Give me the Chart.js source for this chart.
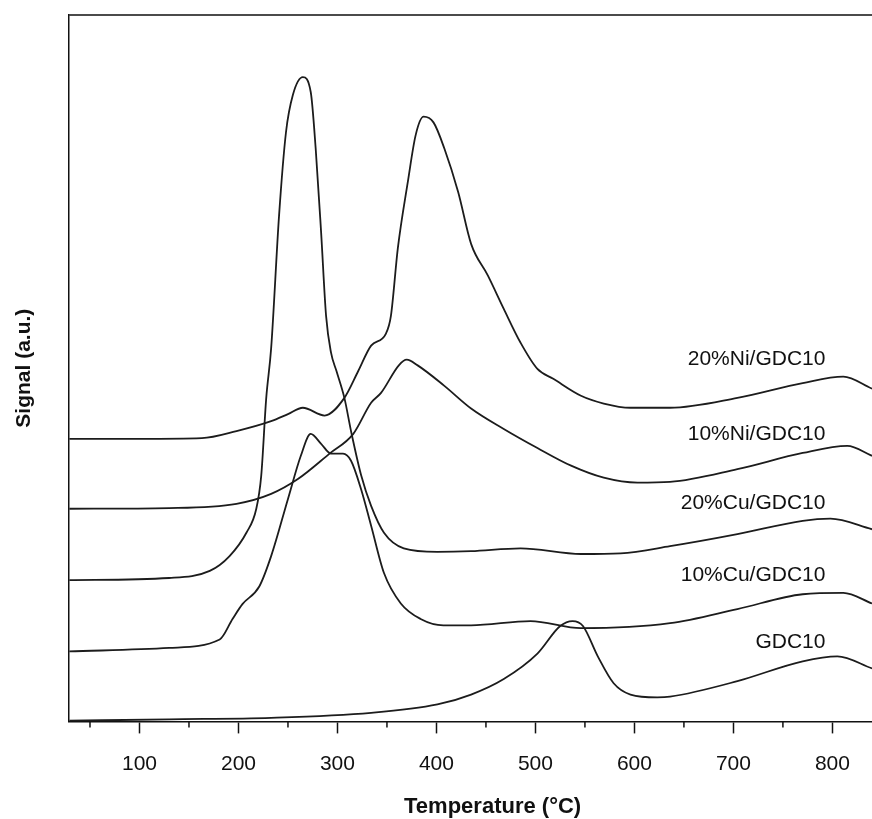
<!DOCTYPE html>
<html>
<head>
<meta charset="utf-8">
<script src="https://cdn.jsdelivr.net/npm/chart.js@4.4.1/dist/chart.umd.min.js"></script>
<style>
  html, body { margin: 0; padding: 0; background: #fff; }
</style>
</head>
<body>
<canvas id="chart1" width="872" height="819"></canvas>
<script>
// TPR profiles, temperature in degC, signal in arbitrary units (curves stacked)
const seriesNames = ['20%Ni/GDC10', '10%Ni/GDC10', '20%Cu/GDC10', '10%Cu/GDC10', 'GDC10'];

const tempNi20 = [29, 100, 163, 198, 233, 250, 265, 287, 307, 321, 334, 349, 354, 361, 371, 379, 387, 397, 408, 422, 435, 452, 468, 485, 502, 518, 546, 569, 596, 636, 704, 770, 811, 840];
const sigNi20  = [40.0, 40.0, 40.1, 41.1, 42.5, 43.5, 44.4, 43.3, 45.8, 49.6, 53.2, 54.9, 57.4, 67.0, 76.3, 83.0, 85.6, 84.8, 81.1, 74.9, 67.6, 63.1, 58.4, 53.6, 49.9, 48.5, 46.1, 45.0, 44.4, 44.4, 45.8, 47.9, 48.8, 47.1];

const tempNi10 = [29, 130, 198, 233, 260, 292, 316, 334, 344, 362, 370, 381, 408, 435, 468, 502, 536, 569, 603, 636, 704, 770, 815, 840];
const sigNi10  = [30.1, 30.2, 30.8, 32.2, 34.3, 37.9, 40.7, 45.1, 46.5, 50.4, 51.2, 50.4, 47.5, 44.3, 41.4, 38.7, 36.2, 34.5, 33.8, 33.9, 35.7, 38.0, 39.0, 37.6];

const tempCu20 = [29, 130, 171, 191, 208, 218, 223, 228, 233, 241, 248, 255, 265, 273, 278, 283.5, 288.5, 293.5, 299, 307, 314, 324, 334, 347, 367, 401, 435, 485, 546, 586, 636, 704, 770, 798, 840];
const sigCu20  = [20.0, 20.3, 21.3, 23.4, 26.7, 30.1, 34.8, 45.7, 52.8, 71.6, 83.4, 88.7, 91.2, 89.1, 81.1, 69.2, 57.4, 52.2, 49.6, 45.8, 40.9, 34.8, 30.5, 26.7, 24.5, 24.0, 24.1, 24.5, 23.7, 23.8, 24.8, 26.5, 28.4, 28.7, 27.2];

const tempCu10 = [29, 130, 181, 194, 204, 221, 233, 250, 263, 273, 283.5, 293.5, 305.6, 313.7, 323.8, 334, 347, 364, 384, 407, 435, 495, 546, 636, 704, 770, 811, 840];
const sigCu10  = [9.9, 10.4, 11.6, 14.5, 16.6, 19.1, 23.4, 31.5, 37.6, 40.7, 39.3, 37.9, 37.9, 36.9, 32.9, 27.7, 21.0, 16.7, 14.5, 13.6, 13.6, 14.2, 13.2, 13.9, 15.9, 18.0, 18.2, 16.7];

const tempGdc = [29, 130, 233, 334, 401, 435, 468, 502, 525, 537.5, 548, 563, 579, 596, 623, 636, 704, 770, 805, 840];
const sigGdc  = [0.1, 0.3, 0.5, 1.2, 2.4, 3.8, 6.0, 9.6, 13.5, 14.2, 13.5, 9.2, 5.4, 3.8, 3.4, 3.5, 5.7, 8.5, 9.2, 7.5];

const xTicks = [100, 200, 300, 400, 500, 600, 700, 800];
const xMinorTicks = [50, 150, 250, 350, 450, 550, 650, 750, 850];

// where the curve names sit (data coords, right aligned)
const labelT = 793;
const labelV = [51.3, 40.7, 30.9, 20.7, 11.2];

const temps = [tempNi20, tempNi10, tempCu20, tempCu10, tempGdc];
const sigs = [sigNi20, sigNi10, sigCu20, sigCu10, sigGdc];

const datasets = seriesNames.map((name, i) => ({
    label: name,
    data: temps[i].map((t, j) => ({x: t, y: sigs[i][j]})),
    borderColor: '#1c1c1c',
    borderWidth: 1.8,
    pointRadius: 0,
    fill: false,
    cubicInterpolationMode: 'monotone'
}));

const fontFam = '"Liberation Sans", Arial, sans-serif';

const extras = {
    id: 'extras',
    afterDatasetsDraw(chart) {
        const {ctx, chartArea: a, scales: {x, y}} = chart;
        ctx.save();
        ctx.strokeStyle = '#111';
        ctx.lineWidth = 1.5;
        ctx.beginPath();
        ctx.moveTo(a.left, a.top);
        ctx.lineTo(a.right, a.top);
        xMinorTicks.forEach(v => {
            const px = x.getPixelForValue(v);
            if (px > a.right) return;
            ctx.moveTo(px, a.bottom);
            ctx.lineTo(px, a.bottom + 6);
        });
        ctx.stroke();
        ctx.font = '21px ' + fontFam;
        ctx.fillStyle = '#111';
        ctx.textAlign = 'right';
        ctx.textBaseline = 'middle';
        seriesNames.forEach((n, i) => {
            ctx.fillText(n, x.getPixelForValue(labelT), y.getPixelForValue(labelV[i]));
        });
        ctx.restore();
    }
};

const config1 = {
    type: 'line',
    data: {datasets: datasets},
    options: {
        responsive: false,
        animation: false,
        events: [],
        layout: {padding: {top: 15, left: 0, right: 0, bottom: 0}},
        plugins: {legend: {display: false}, tooltip: {enabled: false}},
        scales: {
            x: {
                type: 'linear',
                min: 29,
                max: 840,
                afterBuildTicks: axis => { axis.ticks = xTicks.map(v => ({value: v})); },
                grid: {display: true, drawOnChartArea: false, drawTicks: true, tickLength: 12, tickColor: '#111', tickWidth: 1.5},
                border: {display: true, color: '#111', width: 1.5},
                ticks: {padding: 18, color: '#111', font: {family: fontFam, size: 21}, maxRotation: 0},
                title: {display: true, text: '\u2002\u2002\u2002\u2002Temperature (°C)', color: '#111',
                    font: {family: fontFam, size: 22, weight: 'bold'}, padding: {top: -1, bottom: -1}}
            },
            y: {
                min: 0,
                max: 100,
                grid: {display: false, drawTicks: false},
                border: {display: true, color: '#111', width: 1.5},
                ticks: {display: false},
                title: {display: true, text: 'Signal (a.u.)', color: '#111',
                    font: {family: fontFam, size: 21, weight: 'bold'}, padding: {top: 12, bottom: 32}}
            }
        }
    },
    plugins: [extras]
};

new Chart(document.getElementById('chart1').getContext('2d'), config1);
</script>
</body>
</html>
